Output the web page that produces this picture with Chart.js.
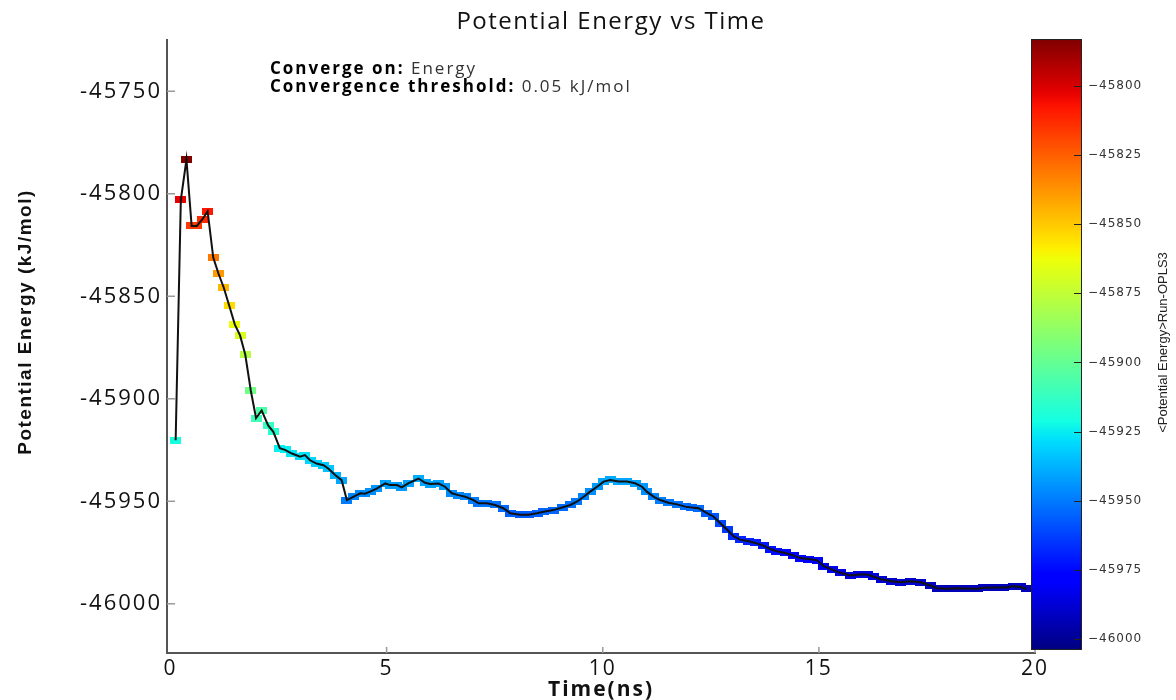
<!DOCTYPE html>
<html>
<head>
<meta charset="utf-8">
<title>Potential Energy vs Time</title>
<script src="https://cdn.jsdelivr.net/npm/chart.js@4.4.0/dist/chart.umd.min.js"></script>
<style>
  html, body { margin: 0; padding: 0; background: #fff; }
  #wrap { position: relative; width: 1176px; height: 700px; overflow: hidden; }
  #energyChart { position: absolute; left: 0; top: 0; }
  #colorBar { position: absolute; left: 1020px; top: 0; }
</style>
</head>
<body>
<div id="wrap">
  <canvas id="energyChart" width="1176" height="700"></canvas>
  <canvas id="colorBar" width="156" height="700"></canvas>
</div>
<script>
// values
const timeNs = [
  0.12, 0.24, 0.37, 0.49, 0.61, 0.74, 0.86, 0.99, 1.11, 1.23,
  1.36, 1.49, 1.61, 1.73, 1.86, 1.98, 2.11, 2.26, 2.38, 2.53,
  2.65, 2.81, 3.00, 3.11, 3.23, 3.38, 3.54, 3.65, 3.81, 3.96,
  4.08, 4.23, 4.39, 4.50, 4.62, 4.77, 4.97, 5.08, 5.24, 5.35,
  5.50, 5.74, 5.89, 6.01, 6.20, 6.35, 6.51, 6.66, 6.82, 7.01,
  7.13, 7.32, 7.51, 7.70, 7.86, 8.09, 8.28, 8.48, 8.63, 8.86,
  9.06, 9.25, 9.40, 9.56, 9.71, 9.87, 10.02, 10.17, 10.37, 10.56,
  10.75, 10.91, 11.02, 11.18, 11.33, 11.52, 11.72, 11.91, 12.06, 12.22,
  12.41, 12.56, 12.72, 12.88, 13.03, 13.18, 13.38, 13.53, 13.72, 13.88,
  14.03, 14.22, 14.42, 14.57, 14.76, 14.96, 15.11, 15.31, 15.50, 15.73,
  15.92, 16.12, 16.27, 16.46, 16.69, 16.89, 17.12, 17.35, 17.58, 17.74,
  17.97, 18.20, 18.43, 18.66, 18.81, 19.05, 19.28, 19.51, 19.66, 19.80
];
const energy = [
  -45920.2, -45803.0, -45783.3, -45815.7, -45815.7, -45812.4, -45808.6, -45831.1, -45838.9, -45845.6,
  -45854.6, -45863.8, -45869.1, -45878.4, -45896.2, -45909.4, -45905.7, -45913.0, -45916.1, -45924.1,
  -45924.9, -45926.7, -45928.3, -45927.5, -45930.0, -45931.6, -45932.4, -45934.0, -45937.2, -45939.7,
  -45949.4, -45947.8, -45946.1, -45946.3, -45945.3, -45943.8, -45941.3, -45942.1, -45942.1, -45943.2,
  -45941.3, -45938.9, -45941.0, -45941.6, -45941.3, -45942.9, -45946.1, -45947.0, -45947.8, -45949.4,
  -45951.0, -45951.0, -45951.8, -45953.4, -45955.8, -45956.6, -45956.6, -45955.8, -45955.1, -45954.3,
  -45953.0, -45951.8, -45950.2, -45947.8, -45945.3, -45942.9, -45940.4, -45939.6, -45940.4, -45940.4,
  -45941.2, -45942.9, -45945.3, -45947.8, -45949.4, -45950.7, -45951.5, -45952.6, -45953.0, -45953.4,
  -45955.8, -45957.4, -45960.7, -45963.9, -45967.1, -45968.7, -45969.5, -45970.3, -45971.7, -45973.3,
  -45974.4, -45975.2, -45976.5, -45977.7, -45978.2, -45978.8, -45981.6, -45983.3, -45984.9, -45986.2,
  -45985.7, -45985.7, -45986.8, -45988.2, -45989.0, -45989.5, -45989.0, -45989.5, -45991.1, -45992.4,
  -45992.7, -45992.4, -45992.6, -45992.7, -45992.2, -45992.0, -45992.0, -45991.5, -45991.8, -45992.7
];
const xTicks = [0, 5, 10, 15, 20];
const yTicks = [-45750, -45800, -45850, -45900, -45950, -46000];
const colorTicks = [-45800, -45825, -45850, -45875, -45900, -45925, -45950, -45975, -46000];
const colorMin = -46004;
const colorMax = -45783;

// matplotlib "jet"
const jetR = [[0, 0], [0.35, 0], [0.66, 1], [0.89, 1], [1, 0.5]];
const jetG = [[0, 0], [0.125, 0], [0.375, 1], [0.64, 1], [0.91, 0], [1, 0]];
const jetB = [[0, 0.5], [0.11, 1], [0.34, 1], [0.65, 0], [1, 0]];

function interp(stops, f) {
  for (let i = 1; i < stops.length; i++) {
    if (f <= stops[i][0]) {
      const [x0, y0] = stops[i - 1];
      const [x1, y1] = stops[i];
      return y0 + (y1 - y0) * (f - x0) / (x1 - x0);
    }
  }
  return stops[stops.length - 1][1];
}

function jet(f) {
  f = Math.min(1, Math.max(0, f));
  const r = Math.round(255 * interp(jetR, f));
  const g = Math.round(255 * interp(jetG, f));
  const b = Math.round(255 * interp(jetB, f));
  return `rgb(${r},${g},${b})`;
}

const markerCache = {};
function marker(value) {
  const color = jet((value - colorMin) / (colorMax - colorMin));
  if (!markerCache[color]) {
    const c = document.createElement("canvas");
    c.width = 11;
    c.height = 7;
    const g = c.getContext("2d");
    g.fillStyle = color;
    g.fillRect(0, 0, 11, 7);
    markerCache[color] = c;
  }
  return markerCache[color];
}

const points = timeNs.map((t, i) => ({ x: t, y: energy[i] }));

// the reference text is drawn wide, so open the letters up a little
const wideText = {
  id: "wideText",
  beforeDraw(chart) {
    chart.ctx.letterSpacing = "2px";
  }
};

// short tick marks pointing into the plot
const innerTicks = {
  id: "innerTicks",
  afterDraw(chart) {
    const { ctx, chartArea, scales } = chart;
    ctx.save();
    ctx.strokeStyle = "#999";
    ctx.lineWidth = 1.5;
    xTicks.forEach(v => {
      if (v === 0) return;
      const px = scales.x.getPixelForValue(v);
      ctx.beginPath();
      ctx.moveTo(px, chartArea.bottom);
      ctx.lineTo(px, chartArea.bottom - 6);
      ctx.stroke();
    });
    yTicks.forEach(v => {
      const py = scales.y.getPixelForValue(v);
      ctx.beginPath();
      ctx.moveTo(chartArea.left, py);
      ctx.lineTo(chartArea.left + 8, py);
      ctx.stroke();
    });
    ctx.restore();
  }
};

// title, y axis title and the two note lines
const texts = {
  id: "texts",
  afterDraw(chart) {
    const ctx = chart.ctx;
    ctx.save();
    ctx.letterSpacing = "1.5px";
    ctx.font = "24px 'Open Sans'";
    ctx.fillStyle = "#111";
    ctx.textAlign = "center";
    ctx.textBaseline = "middle";
    ctx.fillText("Potential Energy vs Time", 611, 22);

    ctx.save();
    ctx.translate(26, 322);
    ctx.rotate(-Math.PI / 2);
    ctx.font = "bold 19px 'Liberation Sans'";
    ctx.fillText("Potential Energy (kJ/mol)", 0, 0);
    ctx.restore();

    ctx.letterSpacing = "2px";
    ctx.textAlign = "left";
    ctx.textBaseline = "alphabetic";
    const lines = [["Converge on:", " Energy"], ["Convergence threshold:", " 0.05 kJ/mol"]];
    lines.forEach((pair, i) => {
      const y = 74 + i * 18;
      ctx.font = "bold 17px 'Open Sans'";
      ctx.fillStyle = "#000";
      ctx.fillText(pair[0], 270, y);
      const w = ctx.measureText(pair[0]).width;
      ctx.font = "17px 'Open Sans'";
      ctx.fillStyle = "#333";
      ctx.fillText(pair[1], 270 + w, y);
    });
    ctx.restore();
  }
};

new Chart(document.getElementById("energyChart"), {
  type: "scatter",
  data: {
    datasets: [
      {
        label: "Potential Energy",
        data: points,
        showLine: true,
        borderColor: "#111",
        borderWidth: 2,
        pointRadius: 0,
        order: 1
      },
      {
        label: "markers",
        data: points,
        showLine: false,
        pointStyle: ctx => (ctx.raw ? marker(ctx.raw.y) : "rect"),
        pointRadius: 5,
        order: 2
      }
    ]
  },
  options: {
    responsive: false,
    animation: false,
    layout: { padding: { left: 0, right: 141, top: 40, bottom: 0 } },
    plugins: {
      legend: { display: false },
      tooltip: { enabled: false },
      title: { display: false }
    },
    scales: {
      x: {
        type: "linear",
        min: -0.08,
        max: 20,
        afterBuildTicks: s => { s.ticks = xTicks.map(v => ({ value: v })); },
        afterFit: s => { s.height = 47; },
        grid: { drawOnChartArea: false, drawTicks: false },
        border: { color: "#555", width: 2 },
        ticks: {
          color: "#111",
          font: { family: "Open Sans", size: 21 },
          padding: 3,
          maxRotation: 0,
          callback: v => String(v)
        },
        title: {
          display: true,
          text: "Time(ns)",
          color: "#111",
          font: { family: "Open Sans", size: 21, weight: "bold" },
          padding: { top: 0, bottom: -3 }
        }
      },
      y: {
        min: -46024,
        max: -45725,
        afterBuildTicks: s => { s.ticks = yTicks.map(v => ({ value: v })); },
        afterFit: s => { s.width = 167; },
        grid: { drawOnChartArea: false, drawTicks: false },
        border: { color: "#555", width: 2 },
        ticks: {
          color: "#111",
          font: { family: "Open Sans", size: 22 },
          padding: 5,
          callback: v => String(v)
        }
      }
    }
  },
  plugins: [wideText, innerTicks, texts]
});

// colour bar: gradient drawn over the chart area of a second chart
const colorBarFill = {
  id: "colorBarFill",
  beforeDraw(chart) {
    const { ctx, chartArea, scales } = chart;
    const { left, right, top, bottom } = chartArea;
    ctx.letterSpacing = "1px";
    const grad = ctx.createLinearGradient(0, bottom, 0, top);
    for (let i = 0; i <= 64; i++) grad.addColorStop(i / 64, jet(i / 64));
    ctx.save();
    ctx.fillStyle = grad;
    ctx.fillRect(left, top, right - left, bottom - top);
    ctx.strokeStyle = "#222";
    ctx.lineWidth = 1;
    ctx.strokeRect(left + 0.5, top + 0.5, right - left - 1, bottom - top - 1);
    colorTicks.forEach(v => {
      const py = Math.round(scales.y.getPixelForValue(v)) + 0.5;
      ctx.beginPath();
      ctx.moveTo(right - 8, py);
      ctx.lineTo(right, py);
      ctx.stroke();
    });
    ctx.letterSpacing = "0px";
    ctx.translate(143, (top + bottom) / 2 - 2);
    ctx.rotate(-Math.PI / 2);
    ctx.font = "13px 'Liberation Sans'";
    ctx.fillStyle = "#222";
    ctx.textAlign = "center";
    ctx.textBaseline = "middle";
    ctx.fillText("<Potential Energy>Run-OPLS3", 0, 0);
    ctx.restore();
  }
};

new Chart(document.getElementById("colorBar"), {
  type: "scatter",
  data: { datasets: [] },
  options: {
    responsive: false,
    animation: false,
    layout: { padding: { left: 11, right: 0, top: 39, bottom: 50 } },
    plugins: { legend: { display: false }, tooltip: { enabled: false } },
    scales: {
      x: { display: false, min: 0, max: 1 },
      y: {
        position: "right",
        min: colorMin,
        max: colorMax,
        afterBuildTicks: s => { s.ticks = colorTicks.map(v => ({ value: v })); },
        afterFit: s => { s.width = 94; },
        grid: { drawOnChartArea: false, drawTicks: false },
        border: { display: false },
        ticks: {
          color: "#333",
          font: { family: "DejaVu Sans", size: 12 },
          padding: 6,
          callback: v => "\u2212" + Math.abs(v)
        }
      }
    }
  },
  plugins: [colorBarFill]
});
</script>
</body>
</html>
